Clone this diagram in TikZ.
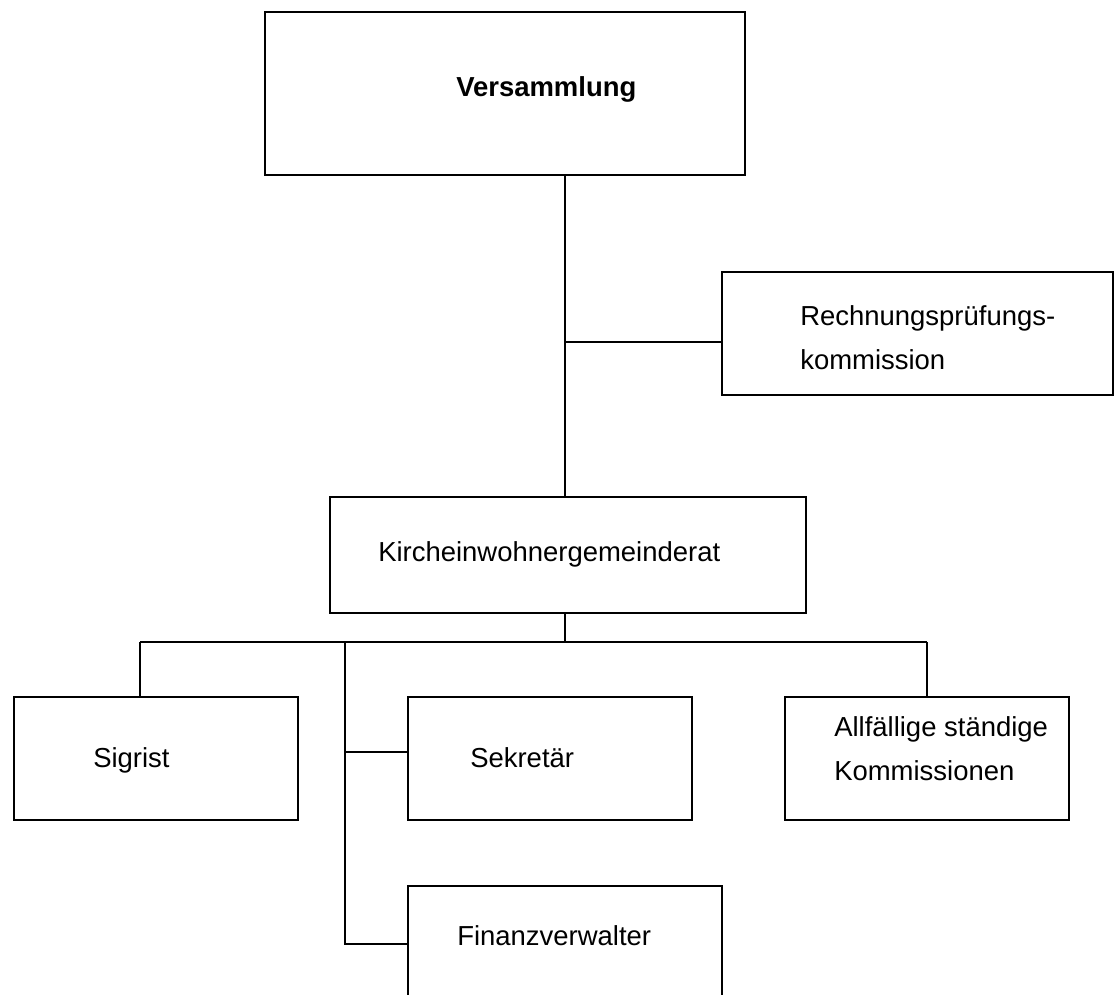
\documentclass[tikz,border=0pt]{standalone}
\usepackage{fontspec}
\setmainfont{Liberation Sans}
\tikzset{
    box/.style={draw, line width=1.6pt, inner sep=0pt},
    txt/.style={anchor=base west, inner sep=0pt, font=\fontsize{20.6}{32.5}\selectfont, align=left},
    con/.style={line width=1.6pt}
}
\begin{document}
\begin{tikzpicture}[x=0.75pt, y=-0.75pt]
        \useasboundingbox (0,0) rectangle (1115,995);
        \clip (0,0) rectangle (1115,995);
        \node[box, minimum width=360pt, minimum height=122.25pt] (vers) at (505,93.5) {};
        \node[box, minimum width=293.25pt, minimum height=92.25pt] (rech) at (917.5,333.5) {};
        \node[box, minimum width=357pt, minimum height=87pt] (kgr) at (568,555) {};
        \node[box, minimum width=213pt, minimum height=92.25pt] (sig) at (156,758.5) {};
        \node[box, minimum width=213pt, minimum height=92.25pt] (sek) at (550,758.5) {};
        \node[box, minimum width=213pt, minimum height=92.25pt] (allf) at (927,758.5) {};
        \node[box, minimum width=235.5pt, minimum height=120pt] (fin) at (565,966) {};
        % texte
        \node[txt, font=\fontsize{20.6}{32.5}\selectfont\bfseries] (versT) at (456,97) {Versammlung};
        \node[txt] (rechT) at (800,369) {Rechnungsprüfungs-\\kommission};
        \node[txt] (kgrT) at (378,561) {Kircheinwohnergemeinderat};
        \node[txt] (sigT) at (93,767) {Sigrist};
        \node[txt] (sekT) at (470,767) {Sekretär};
        \node[txt] (allfT) at (834,780) {Allfällige ständige\\Kommissionen};
        \node[txt] (finT) at (457,945) {Finanzverwalter};
        % verbindungen
        \coordinate (mid) at (565,342);
        \coordinate (bus) at (565,642);
        \coordinate (busL) at (140,642);
        \coordinate (busR) at (927,642);
        \coordinate (side) at (345,642);
        \coordinate (sideS) at (345,752);
        \coordinate (sideF) at (345,944);
        \draw[con] (vers.south -| mid) -- (kgr.north -| mid);
        \draw[con] (mid) -- (rech.west |- mid);
        \draw[con] (kgr.south -| bus) -- (bus);
        \draw[con] (busL) -- (busR);
        \draw[con] (busL) -- (sig.north -| busL);
        \draw[con] (busR) -- (allf.north -| busR);
        \draw[con] (side) -- (sideF) -- (fin.west |- sideF);
        \draw[con] (sideS) -- (sek.west |- sideS);
    \end{tikzpicture}
\end{document}
